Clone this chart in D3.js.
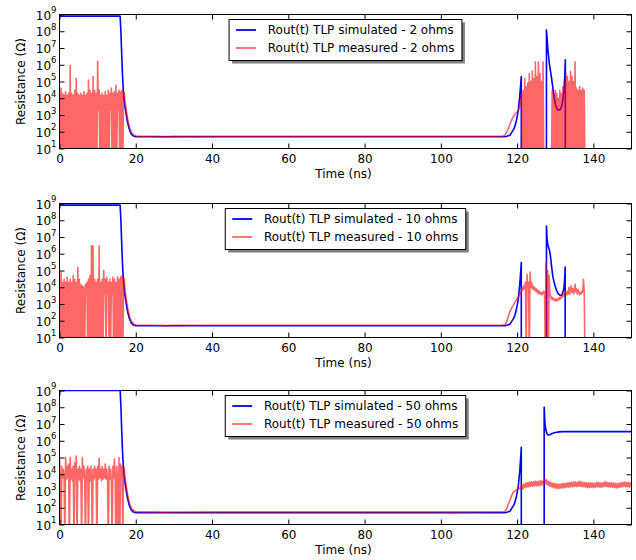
<!DOCTYPE html>
<html><head><meta charset="utf-8">
<script src="https://cdn.jsdelivr.net/npm/d3@7"></script>
<style>body{margin:0;background:#fff}svg{display:block}</style>
</head><body><svg id="chart" width="636" height="560"></svg>
<script>
// ---------- data ----------
const timeTicks = [0, 20, 40, 60, 80, 100, 120, 140];
const decadeExps = [1, 2, 3, 4, 5, 6, 7, 8, 9];
const loadOhms = ["2", "10", "50"];
const xLabel = "Time (ns)";
const yLabel = "Resistance (\u03A9)";
const noiseStep = 0.2;
const lateStep3 = 0.25;

// Panel 1 (2 ohms) simulated
const sim1T = [0,15.9,16.1,16.3,16.5,16.7,16.9,17.1,17.4,17.8,18.3,18.8,19.4,20,60,116.8,117.5,118.1,118.5,119.0,119.4,119.8,120.3,120.7,120.9,121.1,121.1,127.7,127.7,127.9,128.1,128.5,129.0,129.5,130.0,130.5,130.9,131.3,131.7,132.0,132.3,132.5,132.65,132.65,150];
const sim1R = [8e8,8e8,1e8,5e6,3e5,4e4,1e4,4e3,1.5e3,400,140,75,55,50,50,50,55,62,85,130,200,450,1.8e3,1.4e4,5e4,2e5,0.5,0.5,1.2e8,3e7,7e6,1e6,1.8e5,2.5e4,4.5e3,2.2e3,1.9e3,2.1e3,3.5e3,8e3,3e4,2e5,2e6,0.5,0.5];
// Panel 1 measured: early noise (t = 0, 0.2, ...), middle, late noise (t = 121.2, 121.4, ...)
const meas1NoiseA = [1.5e4,0.5,4e4,0.5,2e4,0.5,1.5e4,0.5,2.5e4,0.5,1.5e4,0.5,2e4,0.5,9e5,0.5,2e4,0.5,1.5e4,0.5,
 3e4,0.5,1.5e5,0.5,2e4,0.5,1.5e4,0.5,2e4,0.5,1.5e4,0.5,2.5e4,0.5,1.5e4,0.5,2e4,0.5,1.2e5,0.5,
 3e4,0.5,2e4,0.5,2e5,0.5,3e4,0.5,2e4,0.5,1.6e6,2e3,3e4,0.5,1.5e4,0.5,2e4,0.5,1.5e4,0.5,
 2.5e4,0.5,1.5e4,0.5,3e4,0.5,2e4,2e3,4e4,0.5,2e4,0.5,2.5e4,0.5,6e4,0.5,2e4,2e3,3e4,0.5,
 2.5e4,0.5,3e4,0.5,2.5e4];
const meas1T = [17.0,17.2,17.5,17.9,18.4,18.9,19.5,20.2,25,28,30,40,60,80,100,116.2,116.8,117.5,118.1,119.0,119.7,120.3,120.7,121.0];
const meas1R = [2e4,7e3,2e3,550,170,90,62,55,54,51,53,54,54,54,54,55,62,120,280,800,1.3e3,1.8e3,3e3,8e3];
const meas1NoiseB = [2e4,0.5,3e4,0.5,1.5e5,0.5,5e4,0.5,8e4,0.5,3e5,0.5,1e5,0.5,4e5,0.5,1.5e5,0.5,1.5e6,0.5,
 2e5,0.5,1.5e6,0.5,3e5,0.5,1e5,0.5,1.5e6,0.5,0.5,0.5,0.5,0.5,0.5,0.5,0.5,0.5,0.5,0.5,
 3e4,0.5,1e4,0.5,3e4,0.5,2e4,0.5,1e4,0.5,3e4,0.5,2e4,0.5,5e4,0.5,1e5,0.5,3e5,0.5,
 2e5,0.5,1e5,0.5,4e5,0.5,2e5,0.5,1e5,0.5,1.5e6,0.5,4e4,0.5,3e4,0.5,5e4,0.5,3e4,0.5,
 4e4,0.5,3e4,0.5];

// Panel 2 (10 ohms)
const sim2T = [0,15.9,16.1,16.3,16.5,16.7,16.9,17.1,17.4,17.8,18.3,18.8,19.4,20,60,116.8,117.5,118.1,118.5,119.0,119.4,119.8,120.3,120.7,120.9,121.1,121.1,127.7,127.7,127.85,128.1,128.5,128.8,129.0,129.4,129.9,130.4,130.8,131.3,131.7,132.0,132.3,132.5,132.6,132.6,150];
const sim2R = [8e8,8e8,1e8,5e6,3e5,4e4,1e4,4e3,1.5e3,400,140,75,55,50,50,50,55,62,85,130,200,450,1.8e3,1.6e4,6e4,3e5,0.5,0.5,4.5e7,8e6,3e6,1.6e6,6e5,2e5,4e4,1.3e4,6e3,4e3,3.3e3,3.3e3,5e3,9e3,4e4,1.6e5,0.5,0.5];
const meas2NoiseA = [3e4,0.5,8e4,0.5,2e4,0.5,3e4,0.5,2e4,0.5,4e4,0.5,2e4,0.5,3e4,0.5,2e4,0.5,5e4,0.5,
 3e4,0.5,2e4,0.5,1.5e5,0.5,3e4,0.5,1.5e4,0.5,1.2e4,0.5,1e4,0.5,1.5e4,4e3,2e4,0.5,3e4,0.5,
 5e4,0.5,3e6,0.5,3e6,0.5,3e4,0.5,2e4,0.5,3e4,0.5,3e6,0.5,2e4,0.5,3e4,0.5,1e5,4e3,
 3e4,0.5,4e4,4e3,2e4,0.5,3e4,0.5,2e4,4e3,4e4,0.5,3e4,0.5,2e4,0.5,4e4,0.5,3e4,0.5,
 4e4,0.5,5e4,0.5,4e4];
const meas2T = [17.0,17.2,17.5,17.9,18.4,18.9,19.5,20.2,25,28,30,40,60,80,100,116.2,116.8,117.2,117.7,118.1,118.6,119.0,119.5,119.9,120.5,121.0];
const meas2R = [3e4,7e3,2e3,550,170,90,62,55,54,51,53,54,54,54,54,55,60,80,180,340,600,830,1.3e3,2e3,3e3,5e3];
const meas2NoiseB = [6e3,1e4,7e3,1.2e4,8e3,2e4,0.5,6e4,1e4,2e4,
 0.5,8e4,1e4,2e4,8e3,1.2e4,7e3,1e4,6e3,8e3,
 5e3,7e3,4e3,6e3,4e3,5e3,3.5e3,5e3,4e3,6e3,
 5e3,0.5,3e5,0.5,1e5,0.5,5e4,5e3,3e3,2e3,
 2.5e3,1.8e3,2.2e3,1.6e3,2e3,1.5e3,2e3,1.6e3,2.2e3,1.8e3,
 2.5e3,2e3,3e3,2.5e3,4e3,3e3,4.5e3,3.5e3,5e3,3.5e3,
 6e3,4e3,1e4,4e3,7e3,1.2e4,5e3,8e3,4e3,7e3,
 1.5e4,5e3,8e3,4e3,7e3,5e3,3.5e3,5e3,4e3,6e3,
 5e3,3e4,6e3,0.5];

// Panel 3 (50 ohms)
const sim3T = [0,15.9,16.1,16.3,16.5,16.7,16.9,17.1,17.4,17.8,18.3,18.8,19.4,20,60,116.8,117.5,118.1,118.5,119.0,119.4,119.8,120.3,120.7,120.9,121.1,121.1,127.1,127.1,127.3,127.5,127.8,128.1,128.6,129.2,130.0,131.0,132.0,150];
const sim3R = [1e9,1e9,1.2e8,5e6,3e5,4e4,1e4,4e3,1.5e3,400,140,75,55,50,50,50,55,62,85,130,200,450,1.8e3,1.6e4,7e4,4e5,0.5,0.5,1e8,1.2e7,5e6,2.8e6,2.2e6,2.3e6,2.7e6,3.1e6,3.4e6,3.5e6,3.5e6];
const meas3NoiseA = [1e5,5e3,0.5,3e4,6e3,2e4,8e3,0.5,1e5,5e3,
 3e4,6e3,4e4,0.5,1e5,5e3,2e4,4e3,3e4,0.5,
 5e4,6e3,1.2e5,0.5,2e4,5e3,3e4,4e3,2e4,0.5,
 1e5,6e3,3e4,5e3,0.5,2e4,5e3,3e4,0.5,2e4,
 4e3,3e4,6e3,0.5,2e4,5e3,3e4,6e3,2e4,0.5,
 3e4,5e3,9e4,6e3,2e4,4e3,3e4,5e3,2e4,6e3,
 4e4,5e3,2e4,6e3,0.5,3e4,5e3,2e4,4e3,0.5,
 3e4,6e3,8e4,5e3,0.5,3e4,6e3,0.5,1e5,0.5,
 4e4,6e3,3e4,0.5,3e4];
const meas3T = [17.0,17.2,17.5,17.9,18.4,18.9,19.5,20.2,25,28,30,40,60,80,100,116.2,116.8,117.2,117.7,118.1,118.6,119.0,119.6,120.3,120.8];
const meas3R = [2e4,6e3,2e3,550,170,90,65,58,57,55,56,57,57,57,57,58,62,80,160,275,550,850,1.1e3,1.3e3,1.5e3];
const meas3NoiseB = [1.4e3,2.4e3,1.3e3,2.5e3, 1.6e3,3.0e3,1.7e3,3.2e3, 1.8e3,3.4e3,1.9e3,3.5e3, 2.0e3,3.6e3,2.0e3,3.8e3,
 2.1e3,3.7e3,2.0e3,3.9e3, 2.2e3,4.0e3,2.3e3,3.9e3, 2.8e3,5.2e3,2.7e3,4.6e3, 2.3e3,3.8e3,2.0e3,3.4e3,
 1.8e3,3.0e3,1.6e3,2.8e3, 1.5e3,2.7e3,1.4e3,2.6e3, 1.4e3,2.6e3,1.5e3,2.7e3, 1.5e3,2.9e3,1.6e3,2.8e3,
 1.7e3,3.1e3,1.7e3,3.2e3, 1.8e3,3.3e3,1.8e3,3.4e3, 1.9e3,3.6e3,1.8e3,3.3e3, 1.9e3,3.8e3,1.9e3,3.6e3,
 1.8e3,3.3e3,1.8e3,3.2e3, 1.7e3,3.1e3,1.6e3,3.0e3, 1.6e3,3.1e3,1.7e3,3.0e3, 1.6e3,2.9e3,1.7e3,3.2e3,
 1.8e3,3.3e3,1.7e3,3.1e3, 1.7e3,3.0e3,1.8e3,3.3e3, 1.9e3,3.5e3,1.8e3,3.2e3, 1.8e3,3.1e3,1.7e3,3.2e3,
 1.7e3,3.0e3,1.6e3,2.9e3, 1.5e3,2.8e3,1.6e3,3.0e3, 1.7e3,3.1e3,1.8e3,3.3e3, 1.9e3,3.4e3,1.8e3,3.2e3,
 1.8e3,3.2e3,1.7e3,3.1e3, 2.2e3];

// ---------- build ----------
const zip = (ts, rs) => ts.map((t, i) => [t, rs[i]]);
const seq = (t0, dt, vs) => vs.map((v, i) => [t0 + i * dt, v]);

const panels = [
  { sim: zip(sim1T, sim1R), meas: [].concat(seq(0, noiseStep, meas1NoiseA), zip(meas1T, meas1R), seq(121.2, noiseStep, meas1NoiseB)) },
  { sim: zip(sim2T, sim2R), meas: [].concat(seq(0, noiseStep, meas2NoiseA), zip(meas2T, meas2R), seq(121.2, noiseStep, meas2NoiseB)) },
  { sim: zip(sim3T, sim3R), meas: [].concat(seq(0, noiseStep, meas3NoiseA), zip(meas3T, meas3R), seq(121.0, lateStep3, meas3NoiseB)) }
];

const FONT = "DejaVu Sans";
const left = 59.5, right = 631.5;
const panelTops = [14.5, 203.5, 390.5];
const panelH = 134;
const svg = d3.select("#chart");
const x = d3.scaleLinear().domain([0, 150]).range([left, right]);

panels.forEach((p, k) => {
  const top = panelTops[k], bottom = top + panelH;
  const y = d3.scaleLog().domain([10, 1e9]).range([bottom, top]);
  const g = svg.append("g");

  // frame
  g.append("rect").attr("x", left).attr("y", top).attr("width", right - left).attr("height", panelH)
    .attr("fill", "#fff").attr("stroke", "#000").attr("stroke-width", 1);

  const clipId = "clip" + k;
  svg.append("clipPath").attr("id", clipId).append("rect")
    .attr("x", left + 0.5).attr("y", top - 0.5).attr("width", right - left - 1).attr("height", panelH);

  const line = d3.line().x(d => x(d[0])).y(d => y(d[1]));
  const lines = g.append("g").attr("clip-path", `url(#${clipId})`);
  lines.append("path").attr("d", line(p.sim)).attr("fill", "none").attr("stroke", "#0000ff")
    .attr("stroke-width", 1.6).attr("stroke-linejoin", "round");
  lines.append("path").attr("d", line(p.meas)).attr("fill", "none").attr("stroke", "#ff0000")
    .attr("stroke-opacity", 0.6).attr("stroke-width", 1.6).attr("stroke-linejoin", "round");

  const style = sel => {
    sel.select(".domain").remove();
    sel.attr("font-family", FONT).attr("font-size", 12);
    sel.selectAll("line").attr("stroke", "#000");
    sel.selectAll("text").attr("fill", "#000");
  };
  g.append("g").attr("transform", `translate(0,${bottom})`)
    .call(d3.axisBottom(x).tickValues(timeTicks).tickSize(-5).tickSizeOuter(0).tickPadding(6)).call(style);
  g.append("g").attr("transform", `translate(0,${top})`)
    .call(d3.axisTop(x).tickValues(timeTicks).tickSize(-5).tickSizeOuter(0).tickFormat(() => "")).call(style);
  const yTicks = decadeExps.map(e => Math.pow(10, e));
  g.append("g").attr("transform", `translate(${left},0)`)
    .call(d3.axisLeft(y).tickValues(yTicks).tickSize(-5).tickSizeOuter(0).tickFormat(() => "")).call(style);
  g.append("g").attr("transform", `translate(${right},0)`)
    .call(d3.axisRight(y).tickValues(yTicks).tickSize(-5).tickSizeOuter(0).tickFormat(() => "")).call(style);

  // y tick labels 10^n
  decadeExps.forEach(e => {
    const t = g.append("text").attr("x", 56.5).attr("y", y(Math.pow(10, e)) + 5)
      .attr("text-anchor", "end").attr("font-family", FONT).attr("font-size", 12).attr("fill", "#000");
    t.append("tspan").text("10");
    t.append("tspan").attr("dy", -6.5).attr("font-size", 8.5).text(String(e));
  });

  // axis labels
  g.append("text").attr("x", (left + right) / 2 - 2).attr("y", bottom + 29).attr("text-anchor", "middle")
    .attr("font-family", FONT).attr("font-size", 12).attr("fill", "#000").text(xLabel);
  g.append("text").attr("transform", `translate(25,${top + panelH / 2}) rotate(-90)`).attr("text-anchor", "middle")
    .attr("font-family", FONT).attr("font-size", 12).attr("fill", "#000").text(yLabel);

  // legend
  const labels = [`Rout(t) TLP simulated - ${loadOhms[k]} ohms`, `Rout(t) TLP measured - ${loadOhms[k]} ohms`];
  const leg = g.append("g");
  const shadow = leg.append("rect");
  const box = leg.append("rect");
  const texts = labels.map(s => leg.append("text").attr("font-family", FONT).attr("font-size", 12).attr("fill", "#000").text(s));
  const tw = d3.max(texts, t => t.node().getComputedTextLength());
  const bw = 7 + 20 + 11.7 + tw + 7.5, bh = 41;
  const bx = (left + right) / 2 - bw / 2, by = top + 5;
  shadow.attr("x", bx + 3).attr("y", by + 3).attr("width", bw).attr("height", bh).attr("fill", "#000").attr("fill-opacity", 0.5);
  box.attr("x", bx).attr("y", by).attr("width", bw).attr("height", bh).attr("fill", "#fff").attr("stroke", "#000").attr("stroke-width", 1);
  const rows = [by + 10.5, by + 28.5];
  texts.forEach((t, i) => t.attr("x", bx + 38.7).attr("y", rows[i] + 4.3));
  leg.append("line").attr("x1", bx + 7).attr("x2", bx + 27).attr("y1", rows[0]).attr("y2", rows[0])
    .attr("stroke", "#0000ff").attr("stroke-width", 1.8);
  leg.append("line").attr("x1", bx + 7).attr("x2", bx + 27).attr("y1", rows[1]).attr("y2", rows[1])
    .attr("stroke", "#ff0000").attr("stroke-opacity", 0.6).attr("stroke-width", 1.8);
});
</script>
</body></html>
